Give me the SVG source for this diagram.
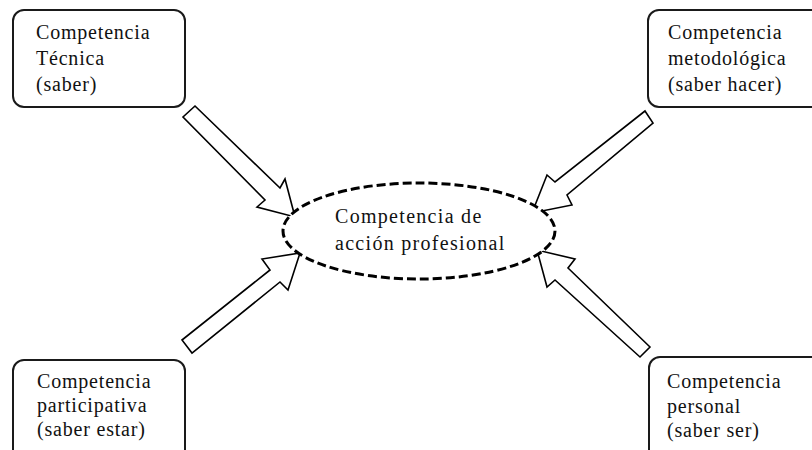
<svg xmlns="http://www.w3.org/2000/svg" width="812" height="450" viewBox="0 0 812 450">
<style>
.box{fill:#fff;stroke:#1a1a1a;stroke-width:2}
.t{font-family:"Liberation Serif","Times New Roman",serif;font-size:20px;fill:#111;letter-spacing:0.8px}
.c{letter-spacing:1.3px}
.arr{fill:#fff;stroke:#000;stroke-width:1.6;stroke-linejoin:miter}
.ell{fill:#fff;stroke:#000;stroke-width:3;stroke-dasharray:9 4}
</style>
<rect width="812" height="450" fill="#fff"/>
<g id="connectors">
<polygon class="arr" points="195,106 280,188 285,179 295,217 257,207 265,200 183,117"/>
<polygon class="arr" points="182,340 270,270 262,259 300,253 288,290 280,282 192,353"/>
<polygon class="arr" points="645,111 555,182 547,175 532,213 572,205 567,195 653,123"/>
<polygon class="arr" points="650,347 568,268 575,259 537,250 547,287 555,280 640,357"/>
</g>
<g id="center">
<ellipse class="ell" cx="419" cy="231" rx="136" ry="48"/>
<text class="t c" x="335" y="223">Competencia de</text>
<text class="t c" x="335" y="250">acción profesional</text>
</g>
<g id="tecnica">
<rect class="box" x="13" y="10" width="172" height="97" rx="11"/>
<text class="t" x="36" y="39">Competencia</text>
<text class="t" x="36" y="65">Técnica</text>
<text class="t" x="36" y="91">(saber)</text>
</g>
<g id="metodologica">
<rect class="box" x="648" y="10" width="190" height="97" rx="11"/>
<text class="t" x="668" y="39">Competencia</text>
<text class="t" x="668" y="65">metodológica</text>
<text class="t" x="668" y="91">(saber hacer)</text>
</g>
<g id="participativa">
<rect class="box" x="13" y="360" width="172" height="110" rx="11"/>
<text class="t" x="37" y="388">Competencia</text>
<text class="t" x="37" y="412">participativa</text>
<text class="t" x="37" y="436">(saber estar)</text>
</g>
<g id="personal">
<rect class="box" x="649" y="357" width="190" height="110" rx="11"/>
<text class="t" x="667" y="388">Competencia</text>
<text class="t" x="667" y="413">personal</text>
<text class="t" x="667" y="437">(saber ser)</text>
</g>
</svg>
